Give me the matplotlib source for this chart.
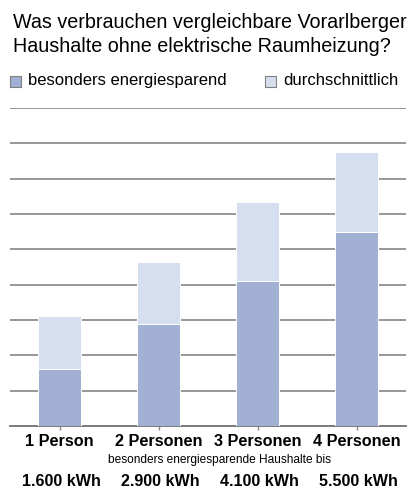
import matplotlib.pyplot as plt
from matplotlib.patches import Rectangle

plt.rcParams['font.family'] = ['Liberation Sans', 'DejaVu Sans']

categories = ['1 Person', '2 Personen', '3 Personen', '4 Personen']
sparend = [1600, 2900, 4100, 5500]
gesamt = [3100, 4650, 6350, 7750]
kwh_labels = ['1.600 kWh', '2.900 kWh', '4.100 kWh', '5.500 kWh']
durchschnitt = [g - s for g, s in zip(gesamt, sparend)]

c_dark = '#A2B1D3'
c_light = '#D6DFF0'
c_grid = '#868686'

fig = plt.figure(figsize=(4.11, 4.88), dpi=100)
ax = fig.add_axes([10 / 411, 62 / 488, 396 / 411, 318 / 488])

x = range(len(categories))
ax.bar(x, sparend, width=0.435, color=c_dark, edgecolor='white', linewidth=0.7, zorder=3)
ax.bar(x, durchschnitt, bottom=sparend, width=0.435, color=c_light,
       edgecolor='white', linewidth=0.7, zorder=3)

ax.set_xlim(-0.5, 3.5)
ax.set_ylim(0, 9000)
ax.set_yticks(range(1000, 9001, 1000))
ax.yaxis.grid(True, color=c_grid, linewidth=1.2, zorder=0)
ax.tick_params(axis='y', left=False, labelleft=False)
ax.set_xticks(list(x))
ax.set_xticklabels([])
ax.tick_params(axis='x', length=3, color=c_grid, width=1)
for s in ['top', 'left', 'right']:
    ax.spines[s].set_visible(False)
ax.spines['bottom'].set_color('#707070')
ax.spines['bottom'].set_linewidth(1.3)

# title
fig.text(13 / 411, 1 - 22 / 488, 'Was verbrauchen vergleichbare Vorarlberger',
         fontsize=14.2, va='center', ha='left')
fig.text(13 / 411, 1 - 47 / 488, 'Haushalte ohne elektrische Raumheizung?',
         fontsize=14.2, va='center', ha='left')

# legend
legend_items = [('besonders energiesparend', c_dark, 10, 28),
                ('durchschnittlich', c_light, 265, 283)]
for label, col, sx, tx in legend_items:
    fig.patches.append(Rectangle((sx / 411, 1 - 87 / 488), 11 / 411, 11 / 488,
                                 transform=fig.transFigure, facecolor=col,
                                 edgecolor='#808080', linewidth=0.8))
    fig.text(tx / 411, 1 - 81 / 488, label, fontsize=12, va='center', ha='left')

# category labels and kWh values
for i, (cat, kw) in enumerate(zip(categories, kwh_labels)):
    xf = (10 + 99 * (i + 0.5)) / 411
    fig.text(xf, 1 - 441 / 488, cat, fontsize=11.7, fontweight='bold',
             ha='center', va='center')
    fig.text(xf + 2 / 411, 1 - 481 / 488, kw, fontsize=11.6, fontweight='bold',
             ha='center', va='center')

fig.text(219 / 411, 1 - 460 / 488, 'besonders energiesparende Haushalte bis',
         fontsize=8.6, ha='center', va='center')

fig.savefig('out.png', dpi=100)
